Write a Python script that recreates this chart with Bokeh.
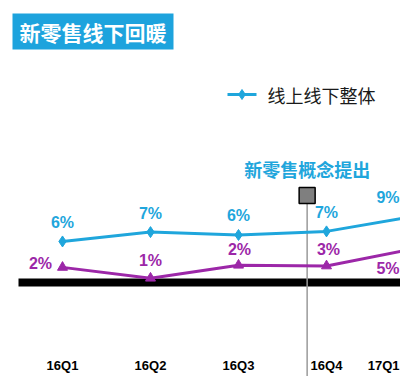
from bokeh.plotting import figure
from bokeh.models import Range1d, ColumnDataSource
from bokeh.core.properties import value
from bokeh.embed import file_html
from bokeh.resources import INLINE

# ---- data ----
quarters = ["16Q1", "16Q2", "16Q3", "16Q4", "17Q1"]
overall = [5.7, 7.0, 6.6, 7.1, 9.2]          # 线上线下整体 (plotted level)
overall_labels = ["6%", "7%", "6%", "7%", "9%"]
offline = [2.1, 0.6, 2.4, 2.3, 4.7]          # 线下 (plotted level)
offline_labels = ["2%", "1%", "2%", "3%", "5%"]
event_pos = 2.78                              # 新零售概念提出 between 16Q3 and 16Q4
event_text = "新零售概念提出"
title_text = "新零售线下回暖"
legend_text = "线上线下整体"

BLUE = "#1fa6dc"
PURPLE = "#9c27a8"
CJK = "Noto Sans CJK SC"
LAT = "Liberation Sans"

W, H = 400, 376
X0, DX = 62.0, 88.0     # px of first category, spacing
Y0, DY = 282.0, 7.2     # px of zero, px per unit

def sx(px):  # picture px -> data x
    return (px - X0) / DX

def sy(py):  # picture px -> data y
    return (Y0 - py) / DY

p = figure(width=W, height=H, output_backend="svg", toolbar_location=None,
           x_range=Range1d(-X0 / DX, (W - X0) / DX),
           y_range=Range1d(-(H - Y0) / DY, Y0 / DY),
           min_border=0)
p.axis.visible = False
p.grid.visible = False
p.outline_line_color = None
p.background_fill_color = "white"
p.border_fill_color = "white"

xs = list(range(len(quarters)))
n = len(quarters)

# title box
p.quad(left=sx(12), right=sx(173), top=sy(13), bottom=sy(49),
       fill_color="#1da3dd", line_color=None)
p.text(x=[sx(92.5)], y=[sy(31)], text=[title_text], text_align="center",
       text_baseline="middle", text_color="white", text_font=value(CJK),
       text_font_style="bold", text_font_size="21px")

# legend
p.line(x=[sx(227), sx(256)], y=[sy(94), sy(94)], line_color=BLUE, line_width=3)
p.scatter(x=[sx(241.5)], y=[sy(94)], marker="diamond", size=10,
          fill_color=BLUE, line_color=BLUE)
p.text(x=[sx(267)], y=[sy(94)], text=[legend_text], text_align="left",
       text_baseline="middle", text_color="#1a1a1a", text_font=value(CJK),
       text_font_size="18px")

# baseline
p.segment(x0=[sx(18)], x1=[sx(420)], y0=[0], y1=[0], line_color="black",
          line_width=8, line_cap="butt")

# event line + box
p.segment(x0=[event_pos], x1=[event_pos], y0=[sy(203)], y1=[sy(400)],
          line_color="#9a9a9a", line_width=1.5)
p.quad(left=[event_pos - 8 / DX], right=[event_pos + 8 / DX],
       top=[sy(187)], bottom=[sy(203)], fill_color="#7f7f7f",
       line_color="black", line_width=1.5)
p.text(x=[event_pos], y=[sy(168)], text=[event_text], text_align="center",
       text_baseline="middle", text_color=BLUE, text_font=value(CJK),
       text_font_style="bold", text_font_size="18px")

# series
src = ColumnDataSource(dict(x=xs, o=overall, f=offline))
p.line("x", "o", source=src, line_color=BLUE, line_width=3)
p.scatter("x", "o", source=src, marker="diamond", size=11,
          fill_color=BLUE, line_color=BLUE)
p.line("x", "f", source=src, line_color=PURPLE, line_width=3)
p.scatter("x", "f", source=src, marker="triangle", size=10,
          fill_color=PURPLE, line_color=PURPLE)

# labels: blue above (last one pulled inside the right edge)
p.text(x=xs[:-1], y=overall[:-1], text=overall_labels[:-1], text_align="center",
       text_baseline="middle", y_offset=-19, text_color=BLUE,
       text_font=value(LAT), text_font_style="bold", text_font_size="16px")
p.text(x=[sx(399)], y=[overall[-1]], text=[overall_labels[-1]], text_align="right",
       text_baseline="middle", y_offset=-19, text_color=BLUE,
       text_font=value(LAT), text_font_style="bold", text_font_size="16px")

# purple labels with per-point placement
fx_off = [-22, 0, 1, 2, 0]
fy_off = [-4, -18, -16, -16, 20]
for i in xs:
    last = i == n - 1
    p.text(x=[sx(399) if last else i], y=[offline[i]], text=[offline_labels[i]],
           text_align="right" if last else "center",
           text_baseline="middle", x_offset=fx_off[i], y_offset=fy_off[i],
           text_color=PURPLE, text_font=value(LAT), text_font_style="bold",
           text_font_size="16px")

# category labels (kept inside the frame)
LAB_Y = 365
p.text(x=xs[:-1], y=[sy(LAB_Y)] * (n - 1), text=quarters[:-1], text_align="center",
       text_baseline="middle", text_color="black", text_font=value(LAT),
       text_font_style="bold", text_font_size="13px")
p.text(x=[sx(399)], y=[sy(LAB_Y)], text=[quarters[-1]], text_align="right",
       text_baseline="middle", text_color="black", text_font=value(LAT),
       text_font_style="bold", text_font_size="13px")

open("out.html", "w").write(file_html(p, INLINE))
